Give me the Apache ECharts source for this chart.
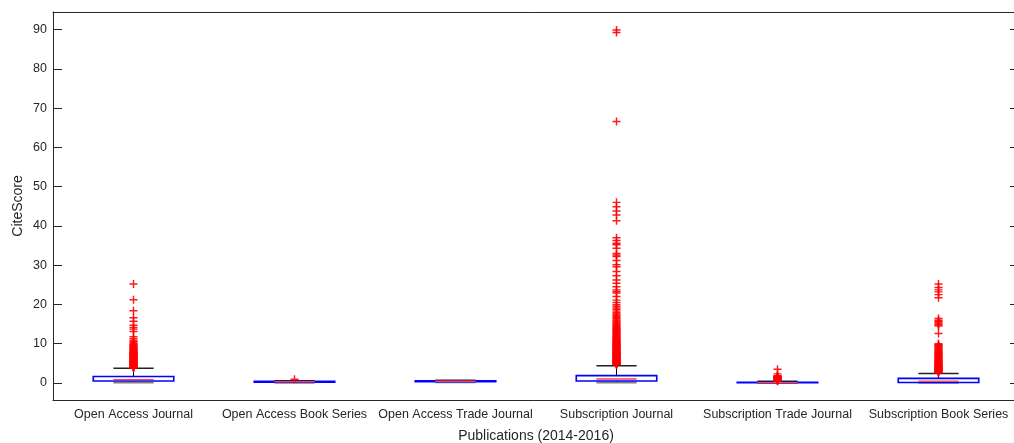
<!DOCTYPE html>
<html><head><meta charset="utf-8">
<script src="https://cdn.jsdelivr.net/npm/echarts@6/dist/echarts.min.js"></script>
<style>html,body{margin:0;padding:0;background:#fff}#c{width:1014px;height:443px}</style>
</head><body><div id="c"></div>
<script>
const categories = ['Open Access Journal','Open Access Book Series','Open Access Trade Journal','Subscription Journal','Subscription Trade Journal','Subscription Book Series'];
const yTicks = [0,10,20,30,40,50,60,70,80,90];
// box stats: [lower whisker, Q1, median, Q3, upper whisker]
const boxOAJ  = [0.08, 0.5, 0.85, 1.65, 3.75];
const boxOABS = [0.05, 0.2, 0.3, 0.42, 0.55];
const boxOATJ = [0.15, 0.32, 0.43, 0.55, 0.7];
const boxSJ   = [0.08, 0.5, 1.0, 1.86, 4.4];
const boxSTJ  = [0.0, 0.03, 0.1, 0.18, 0.42];
const boxSBS  = [0.05, 0.12, 0.45, 1.15, 2.4];
// outliers
const outOAJ  = [3.8,3.86,3.93,4.0,4.07,4.13,4.2,4.28,4.35,4.42,4.5,4.57,4.63,4.7,4.78,4.85,4.92,5.0,5.08,5.15,5.22,5.3,5.37,5.45,5.52,5.6,5.68,5.75,5.83,5.9,5.98,6.05,6.13,6.2,6.28,6.36,6.44,6.52,6.6,6.7,6.78,6.87,6.95,7.05,7.14,7.23,7.32,7.42,7.52,7.62,7.72,7.83,7.94,8.05,8.17,8.29,8.41,8.54,8.67,8.8,8.95,9.1,9.25,9.4,9.6,9.8,10.0,10.3,10.6,10.9,11.3,11.8,13.1,13.7,14.1,14.7,15.7,16.6,18.4,21.2,25.2];
const outOABS = [0.95];
const outOATJ = [];
const outSJ   = [4.6,4.68,4.75,4.83,4.9,4.98,5.05,5.13,5.2,5.28,5.35,5.43,5.5,5.58,5.66,5.73,5.81,5.89,5.96,6.04,6.12,6.2,6.28,6.36,6.44,6.52,6.6,6.68,6.76,6.85,6.93,7.01,7.1,7.19,7.27,7.36,7.45,7.54,7.63,7.72,7.81,7.9,8.0,8.1,8.2,8.3,8.4,8.5,8.6,8.7,8.81,8.92,9.03,9.14,9.25,9.36,9.48,9.6,9.72,9.84,9.96,10.1,10.22,10.35,10.48,10.61,10.75,10.89,11.03,11.17,11.32,11.47,11.62,11.78,11.94,12.1,12.27,12.44,12.61,12.79,12.97,13.15,13.34,13.53,13.73,13.93,14.14,14.35,14.57,14.8,15.03,15.27,15.52,15.78,16.05,16.33,16.62,16.92,17.23,17.55,17.9,18.3,18.7,19.1,19.5,19.9,20.5,21.1,22.0,22.9,23.3,23.7,24.5,25.4,26.2,27.3,28.4,29.6,30.1,31.2,32.2,32.6,33.0,34.3,35.2,35.6,36.3,37.0,41.3,42.8,43.8,44.9,46.0,66.6,89.3,89.9];
const outSTJ  = [0.45,0.52,0.6,0.68,0.75,0.82,0.9,0.98,1.05,1.12,1.2,1.28,1.35,1.43,1.5,1.58,1.65,1.75,1.85,2.3,3.5];
const outSBS  = [2.6,2.68,2.76,2.84,2.92,3.0,3.08,3.16,3.24,3.32,3.4,3.48,3.57,3.66,3.75,3.84,3.93,4.02,4.11,4.2,4.3,4.4,4.5,4.6,4.7,4.8,4.9,5.0,5.12,5.24,5.36,5.48,5.6,5.72,5.85,5.98,6.11,6.24,6.38,6.52,6.66,6.8,6.95,7.1,7.25,7.4,7.55,7.7,7.86,8.02,8.2,8.4,8.6,8.8,9.0,9.2,9.4,9.6,9.8,10.0,12.6,14.5,14.8,15.0,15.3,15.6,15.8,16.0,16.4,21.7,22.5,23.2,23.7,24.3,25.2];

const boxes = [boxOAJ, boxOABS, boxOATJ, boxSJ, boxSTJ, boxSBS];
const outliers = [outOAJ, outOABS, outOATJ, outSJ, outSTJ, outSBS];
const boxData = boxes.map((b, i) => [i].concat(b));
const outData = [];
outliers.forEach((arr, i) => arr.forEach(v => outData.push([i, v])));

const txt = '#262626';
const font = 'Liberation Sans, Arial, sans-serif';
const chart = echarts.init(document.getElementById('c'), null, {renderer: 'canvas'});
chart.setOption({
  animation: false,
  backgroundColor: '#fff',
  grid: {left: 53, top: 12, width: 966, height: 388, containLabel: false, outerBoundsMode: 'none'},
  xAxis: [{
    type: 'category', data: categories, position: 'bottom',
    axisLine: {onZero: false, lineStyle: {color: txt, width: 1}},
    axisTick: {inside: true, alignWithLabel: true, length: 9, lineStyle: {color: txt}},
    axisLabel: {color: txt, fontFamily: font, fontSize: 12.5, margin: 8, interval: 0},
    name: 'Publications (2014-2016)', nameLocation: 'middle', nameGap: 29, nameMoveOverlap: false,
    nameTextStyle: {color: txt, fontFamily: font, fontSize: 14},
    splitLine: {show: false}
  }, {
    type: 'category', data: categories, position: 'top',
    axisLine: {onZero: false, lineStyle: {color: txt, width: 1}},
    axisTick: {inside: true, alignWithLabel: true, length: 9, lineStyle: {color: txt}},
    axisLabel: {show: false}, splitLine: {show: false}
  }],
  yAxis: [{
    type: 'value', min: -4.35, max: 94.5, position: 'left',
    axisLine: {show: true, onZero: false, lineStyle: {color: txt}},
    axisTick: {show: true, inside: true, length: 9, customValues: yTicks, lineStyle: {color: txt}},
    axisLabel: {color: txt, fontFamily: font, fontSize: 12.5, margin: 6, customValues: yTicks},
    splitLine: {show: false},
    name: 'CiteScore', nameLocation: 'middle', nameGap: 28, nameMoveOverlap: false,
    nameTextStyle: {color: txt, fontFamily: font, fontSize: 14}
  }, {
    type: 'value', min: -4.35, max: 94.5, position: 'right',
    axisLine: {show: true, onZero: false, lineStyle: {color: txt}},
    axisTick: {show: true, inside: true, length: 9, customValues: yTicks, lineStyle: {color: txt}},
    axisLabel: {show: false}, splitLine: {show: false}
  }],
  series: [{
    type: 'custom',
    xAxisIndex: 0, yAxisIndex: 0,
    data: boxData,
    encode: {x: 0, y: [1, 2, 3, 4, 5]},
    z: 2,
    renderItem: function (params, api) {
      const x = api.value(0);
      const lo = api.coord([x, api.value(1)]);
      const q1 = api.coord([x, api.value(2)]);
      const md = api.coord([x, api.value(3)]);
      const q3 = api.coord([x, api.value(4)]);
      const hi = api.coord([x, api.value(5)]);
      const band = api.size([1, 0])[0];
      const bw = band * 0.5, cw = band * 0.25;
      const cx = lo[0];
      return {type: 'group', children: [
        {type: 'line', shape: {x1: cx, y1: q3[1], x2: cx, y2: hi[1]}, style: {stroke: '#000', lineWidth: 1}},
        {type: 'line', shape: {x1: cx, y1: q1[1], x2: cx, y2: lo[1]}, style: {stroke: '#000', lineWidth: 1}},
        {type: 'line', shape: {x1: cx - cw / 2, y1: hi[1], x2: cx + cw / 2, y2: hi[1]}, style: {stroke: '#222', lineWidth: 1.5}},
        {type: 'line', shape: {x1: cx - cw / 2, y1: lo[1], x2: cx + cw / 2, y2: lo[1]}, style: {stroke: '#808080', lineWidth: 2}},
        {type: 'rect', shape: {x: cx - bw / 2, y: q3[1], width: bw, height: q1[1] - q3[1]}, style: {stroke: '#0000ff', fill: 'none', lineWidth: 1.6}},
        {type: 'line', shape: {x1: cx - cw / 2, y1: md[1], x2: cx + cw / 2, y2: md[1]}, style: {stroke: '#ff4040', lineWidth: 1.3}}
      ]};
    }
  }, {
    type: 'scatter',
    xAxisIndex: 0, yAxisIndex: 0,
    data: outData,
    z: 3,
    symbol: 'path://M0,4.1H10V5.9H0ZM4.1,0H5.9V10H4.1Z',
    symbolSize: 8,
    itemStyle: {color: '#ff0000', opacity: 0.9}
  }]
});
</script>
</body></html>
